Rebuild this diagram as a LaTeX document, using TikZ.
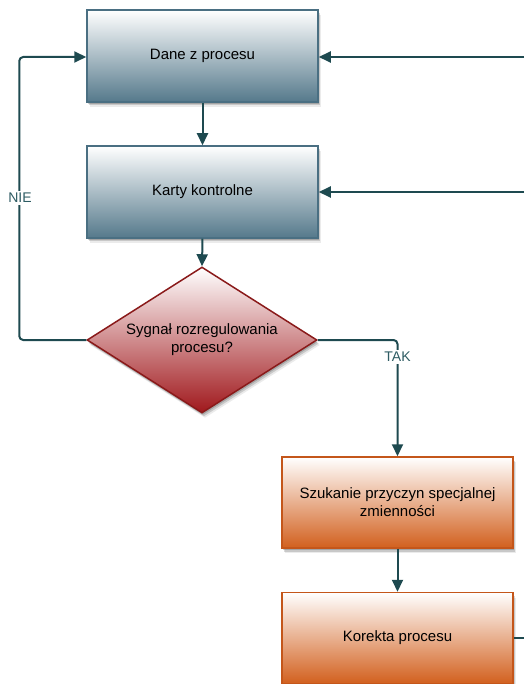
\documentclass[tikz,border=0pt]{standalone}
\usepackage{fontspec}
\setmainfont{Liberation Sans}
\usetikzlibrary{shapes.geometric,arrows.meta,shadows}
\definecolor{ln}{HTML}{1E4A50}
\definecolor{labc}{HTML}{2E5C63}
\definecolor{blueb}{HTML}{55798B}
\definecolor{bluedraw}{HTML}{4A6F82}
\definecolor{redb}{HTML}{A0181C}
\definecolor{reddraw}{HTML}{8A1A1A}
\definecolor{orb}{HTML}{D2601E}
\definecolor{ordraw}{HTML}{C4561A}
\tikzset{
  shadowed/.style={
    general shadow={shadow xshift=1pt,shadow yshift=-2pt,fill=black,opacity=.18},
    general shadow={shadow xshift=2pt,shadow yshift=-3.5pt,fill=black,opacity=.15},
    general shadow={shadow xshift=3pt,shadow yshift=-5pt,fill=black,opacity=.08}},
  bluebox/.style={rectangle, draw=bluedraw, line width=1.5pt, minimum width=231pt, minimum height=92pt, top color=white, middle color=blueb!40!white, bottom color=blueb, shadowed, font=\fontsize{15}{18}\selectfont, align=center},
  orbox/.style={rectangle, draw=ordraw, line width=1.5pt, minimum width=231pt, minimum height=91pt, top color=white, middle color=orb!40!white, bottom color=orb, shadowed, font=\fontsize{15}{18}\selectfont, align=center},
  decbox/.style={diamond, draw=reddraw, line width=1.5pt, minimum width=230pt, minimum height=146pt, inner sep=0pt, top color=white, middle color=redb!40!white, bottom color=redb, shadowed},
  conn/.style={draw=ln, line width=2pt, -{Triangle[length=12pt,width=11pt]}},
  plain/.style={draw=ln, line width=2pt},
  lab/.style={fill=white, text=labc, font=\fontsize{14}{16}\selectfont, inner sep=2pt}
}
\begin{document}
\begin{tikzpicture}[x=1pt,y=-1pt]
\useasboundingbox (0,0) rectangle (524,684);
\clip (0,0) rectangle (524,684);
\node[bluebox] (b1) at (202.5,56) {Dane z procesu};
\node[bluebox] (b2) at (202.5,192) {Karty kontrolne};
\node[decbox] (d) at (202,340) {};
\node[font=\fontsize{15}{18}\selectfont, align=center] (dt) at (202,340) {Sygnał rozregulowania\\procesu?};
\node[orbox] (b3) at (397.5,502.5) {Szukanie przyczyn specjalnej\\zmienności};
\node[orbox] (b4) at (397.5,638) {Korekta procesu};
\coordinate (r1) at (524,57);
\coordinate (r2) at (524,192);
\coordinate (r4) at (524,638);
\draw[conn] (r1) -- (b1.east |- r1);
\draw[conn] (r2) -- (b2.east |- r2);
\draw[conn] (b1.south) -- (b2.north);
\draw[conn] (b2.south) -- (d.north);
\draw[conn, rounded corners=4pt] (d.west) -- ++(-67,0) |- (b1.west |- r1);
\draw[conn, rounded corners=4pt] (d.east) -| (b3.north);
\draw[conn] (b3.south) -- (b4.north);
\draw[plain] (b4.east) -- (r4);
\node[lab] (nie) at (20,198) {NIE};
\node[lab] (tak) at (397.5,357) {TAK};
\end{tikzpicture}
\end{document}
